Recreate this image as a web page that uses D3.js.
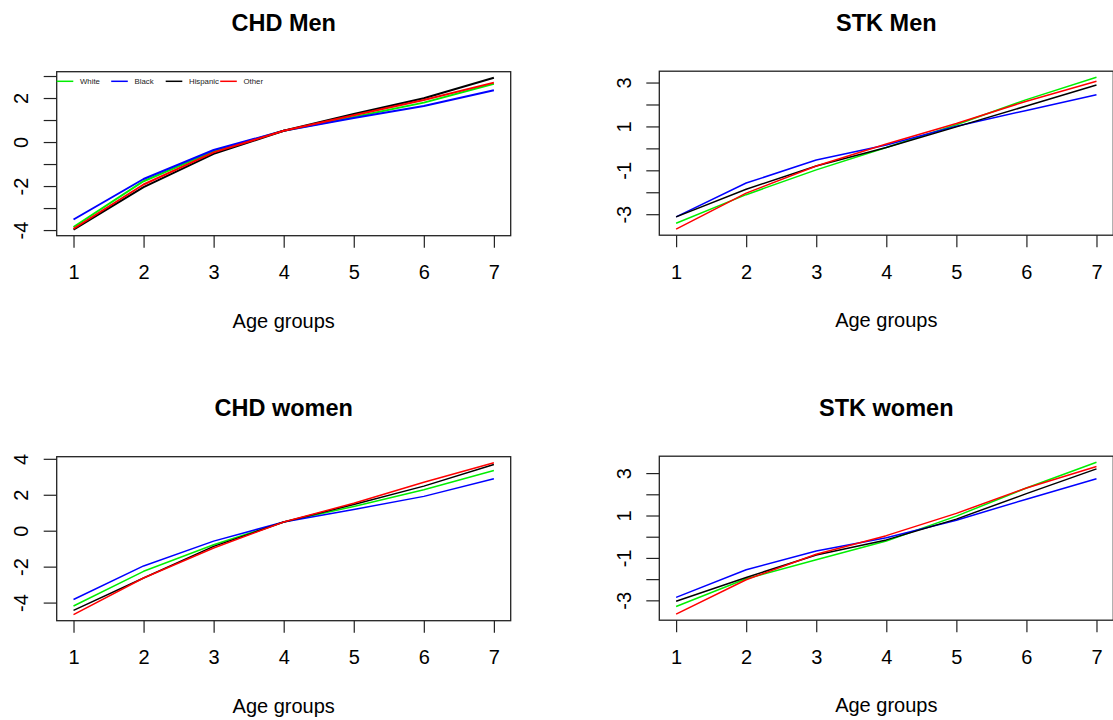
<!DOCTYPE html>
<html>
<head>
<meta charset="utf-8">
<script src="https://cdn.jsdelivr.net/npm/d3@7"></script>
<style>
  body { margin: 0; background: #fff; }
  svg { display: block; font-family: "Liberation Sans", Arial, sans-serif; }
</style>
</head>
<body>
<div id="chart"></div>
<script>
// age groups on the x axis
const ageGroups = [1, 2, 3, 4, 5, 6, 7];
const races = ["White", "Black", "Hispanic", "Other"];
const raceColors = ["#00ee00", "#0000ff", "#000000", "#ff0000"];

// one row per race, in the order of races
const chdMen = [
  [-3.86, -1.78, -0.42, 0.51, 1.14, 1.79, 2.65],
  [-3.52, -1.68, -0.36, 0.51, 1.09, 1.64, 2.35],
  [-3.98, -2.05, -0.54, 0.51, 1.27, 1.99, 2.92],
  [-3.94, -1.93, -0.47, 0.51, 1.22, 1.91, 2.70]
];
const stkMen = [
  [-3.41, -2.11, -0.98, 0.04, 1.08, 2.22, 3.24],
  [-3.12, -1.58, -0.53, 0.15, 1.01, 1.73, 2.44],
  [-3.12, -1.86, -0.80, 0.04, 0.98, 1.93, 2.89],
  [-3.68, -2.04, -0.80, 0.20, 1.13, 2.15, 3.06]
];
const chdWomen = [
  [-4.19, -2.26, -0.78, 0.48, 1.35, 2.28, 3.35],
  [-3.83, -1.96, -0.58, 0.48, 1.18, 1.91, 2.89],
  [-4.43, -2.63, -0.87, 0.48, 1.46, 2.48, 3.68],
  [-4.67, -2.63, -0.96, 0.48, 1.53, 2.70, 3.78]
];
const stkWomen = [
  [-3.29, -1.98, -1.09, -0.20, 0.97, 2.30, 3.51],
  [-2.86, -1.56, -0.67, -0.05, 0.78, 1.77, 2.73],
  [-3.04, -1.92, -0.86, -0.15, 0.83, 2.03, 3.20],
  [-3.65, -2.03, -0.83, 0.05, 1.10, 2.30, 3.31]
];

// y tick marks and which of them carry a label
const chdMenTicks = [-4, -3, -2, -1, 0, 1, 2, 3];
const chdMenLabels = [-4, -2, 0, 2];
const stkMenTicks = [-3, -2, -1, 0, 1, 2, 3];
const stkMenLabels = [-3, -1, 1, 3];
const chdWomenTicks = [-4, -2, 0, 2, 4];
const chdWomenLabels = [-4, -2, 0, 2, 4];
const stkWomenTicks = [-3, -2, -1, 0, 1, 2, 3];
const stkWomenLabels = [-3, -1, 1, 3];

const panels = [
  { title: "CHD Men", data: chdMen, ticks: chdMenTicks, labels: chdMenLabels, left: 56.7, top: 71.7, lw: 2, legend: true },
  { title: "STK Men", data: stkMen, ticks: stkMenTicks, labels: stkMenLabels, left: 659.3, top: 71.2, lw: 1.5 },
  { title: "CHD women", data: chdWomen, ticks: chdWomenTicks, labels: chdWomenLabels, left: 56.7, top: 456.7, lw: 1.5 },
  { title: "STK women", data: stkWomen, ticks: stkWomenTicks, labels: stkWomenLabels, left: 659.3, top: 456.2, lw: 1.5 }
];

const W = 1113, H = 720;
const pw = 454, ph = 164;

var svg = d3.select("#chart").append("svg")
  .attr("width", W)
  .attr("height", H);

svg.append("rect").attr("width", W).attr("height", H).attr("fill", "#fff");

// R style 4% padding of the data range
function padded(ext) {
  let d = (ext[1] - ext[0]) * 0.04;
  return [ext[0] - d, ext[1] + d];
}

panels.forEach(p => {
  let g = svg.append("g").attr("transform", "translate(" + p.left + "," + p.top + ")");

  let x = d3.scaleLinear().domain(padded(d3.extent(ageGroups))).range([0, pw]);
  let y = d3.scaleLinear().domain(padded(d3.extent(p.data.flat()))).range([ph, 0]);

  let line = d3.line()
    .x((d, i) => x(ageGroups[i]))
    .y(d => y(d));

  g.selectAll(".series")
    .data(p.data)
    .enter().append("path")
    .attr("class", "series")
    .attr("d", d => line(d))
    .attr("fill", "none")
    .attr("stroke", (d, i) => raceColors[i])
    .attr("stroke-width", p.lw)
    .attr("stroke-linejoin", "round");

  // box
  g.append("rect")
    .attr("width", pw).attr("height", ph)
    .attr("fill", "none")
    .attr("stroke", "#222")
    .attr("stroke-width", 1.3);

  // x axis
  let xa = g.append("g")
    .attr("transform", "translate(0," + ph + ")")
    .call(d3.axisBottom(x).tickValues(ageGroups).tickSize(12).tickFormat(d3.format("d")));
  xa.select(".domain").remove();
  xa.selectAll(".tick line").attr("stroke", "#222").attr("stroke-width", 1.2);
  xa.selectAll(".tick text")
    .attr("y", 43.5).attr("dy", 0)
    .attr("fill", "#000")
    .style("font-size", "20px")
    .style("font-family", "'Liberation Sans', Arial, sans-serif");

  // y axis
  let ya = g.append("g")
    .call(d3.axisLeft(y).tickValues(p.ticks).tickSize(13)
      .tickFormat(d => p.labels.includes(d) ? d : ""));
  ya.select(".domain").remove();
  ya.selectAll(".tick line").attr("stroke", "#222").attr("stroke-width", 1.2);
  ya.selectAll(".tick text")
    .attr("x", 0).attr("dy", 0)
    .attr("text-anchor", "middle")
    .attr("transform", "translate(-28.5,0) rotate(-90)")
    .attr("fill", "#000")
    .style("font-size", "20px")
    .style("font-family", "'Liberation Sans', Arial, sans-serif");

  // title
  g.append("text")
    .attr("x", pw / 2).attr("y", -40.7)
    .attr("text-anchor", "middle")
    .style("font-size", "23.5px")
    .style("font-weight", "bold")
    .text(p.title);

  // x axis title
  g.append("text")
    .attr("x", pw / 2).attr("y", ph + 92)
    .attr("text-anchor", "middle")
    .style("font-size", "20px")
    .text("Age groups");

  if (p.legend) {
    let lg = g.selectAll(".leg")
      .data(races)
      .enter().append("g")
      .attr("class", "leg")
      .attr("transform", (d, i) => "translate(" + (i * 54.5) + "," + 9.6 + ")");
    lg.append("line")
      .attr("x1", 0).attr("x2", 16.6)
      .attr("stroke", (d, i) => raceColors[i])
      .attr("stroke-width", 1.5);
    lg.append("text")
      .attr("x", 23.3).attr("y", 2.8)
      .attr("fill", "#222")
      .style("font-size", "7.8px")
      .text(d => d);
  }
});
</script>
</body>
</html>
